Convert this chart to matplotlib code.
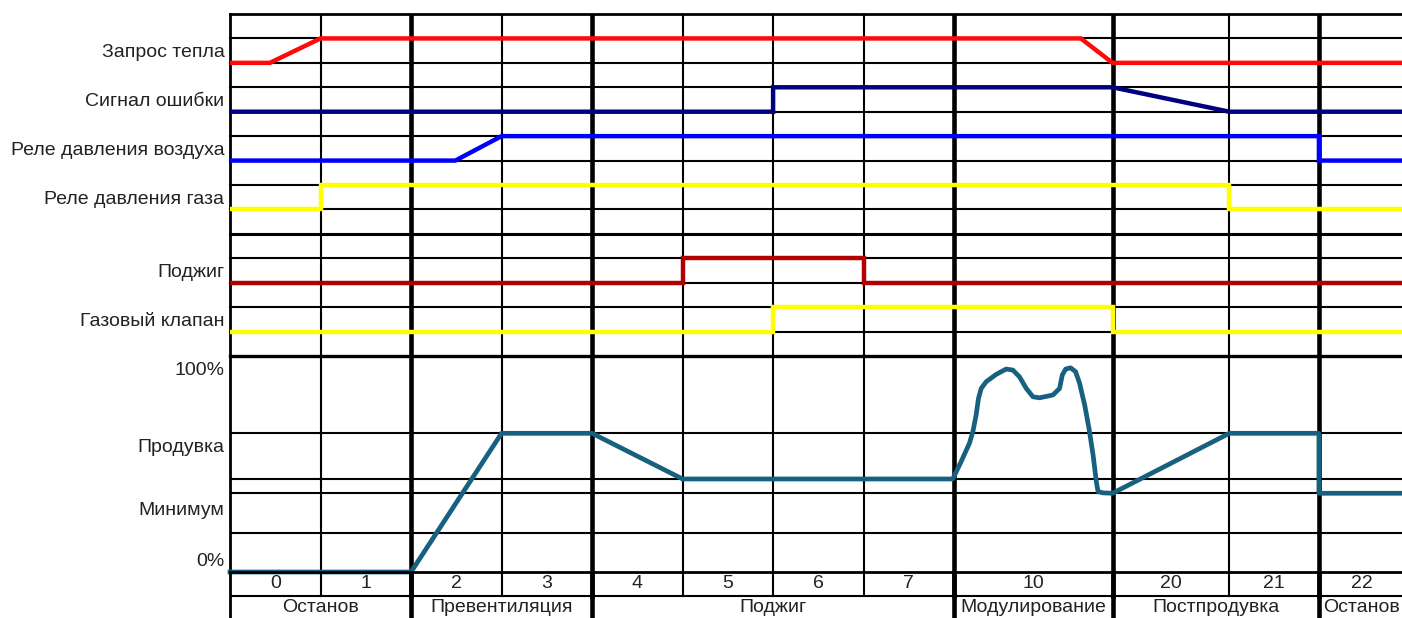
import matplotlib
matplotlib.use("Agg")
import matplotlib.pyplot as plt

plt.rcParams['font.family'] = ['Liberation Sans', 'DejaVu Sans']

# колонки шагов (единица = обычная ширина колонки)
col_edges = [0, 1, 2, 3, 4, 5, 6, 7, 8, 9.75, 11.04, 12.03, 12.97]
step_labels = ['0', '1', '2', '3', '4', '5', '6', '7', '10', '20', '21', '22']
phase_edges = [0, 2, 4, 8, 9.75, 12.03, 12.97]
phase_names = ['Останов', 'Превентиляция', 'Поджиг', 'Модулирование', 'Постпродувка', 'Останов']

# дискретные сигналы: x и состояние 0/1
heat_x = [0, 0.44, 1.0, 9.4, 9.75, 12.97]
heat_s = [0, 0, 1, 1, 0, 0]
err_x = [0, 6.0, 6.0, 9.75, 11.04, 12.97]
err_s = [0, 0, 1, 1, 0, 0]
air_x = [0, 2.49, 3.0, 12.03, 12.03, 12.97]
air_s = [0, 0, 1, 1, 0, 0]
gasp_x = [0, 1.0, 1.0, 11.04, 11.04, 12.97]
gasp_s = [0, 0, 1, 1, 0, 0]
ign_x = [0, 5.0, 5.0, 7.0, 7.0, 12.97]
ign_s = [0, 0, 1, 1, 0, 0]
valve_x = [0, 6.0, 6.0, 9.75, 9.75, 12.97]
valve_s = [0, 0, 1, 1, 0, 0]

# (название, цвет, x, состояние, строка нижнего уровня)
signals = [
    ('Запрос тепла', '#ff0a0a', heat_x, heat_s, 2),
    ('Сигнал ошибки', '#000080', err_x, err_s, 4),
    ('Реле давления воздуха', '#0000ff', air_x, air_s, 6),
    ('Реле давления газа', '#ffff00', gasp_x, gasp_s, 8),
    ('Поджиг', '#b00000', ign_x, ign_s, 11),
    ('Газовый клапан', '#ffff00', valve_x, valve_s, 13),
]

# аналоговый сигнал мощности, %
power_x = [0, 2.0, 3.0, 4.0, 5.0, 7.985, 8.077, 8.169, 8.207, 8.243, 8.269,
           8.299, 8.354, 8.465, 8.575, 8.649, 8.722, 8.797, 8.871, 8.944, 9.092,
           9.165, 9.195, 9.232, 9.287, 9.342, 9.386, 9.442, 9.490, 9.535, 9.571,
           9.590, 9.645, 9.75, 11.04, 12.03, 12.03, 12.97]
power_y = [0, 0, 68, 68, 45.6, 45.6, 54.1, 63.1, 68.8, 77.0, 85.1,
           90.0, 93.3, 96.9, 99.5, 99.0, 95.7, 90.0, 85.9, 85.4, 86.8,
           90.0, 96.6, 99.5, 100.1, 98.2, 92.5, 81.9, 70.4, 57.4, 44.3,
           39.4, 38.8, 38.6, 68, 68, 38.6, 38.6]
power_levels = [68, 45.6, 38.6, 19.1]
power_labels = ['100%', 'Продувка', 'Минимум', '0%']
power_label_pos = [100, 62, 31, 6]

W, H = 1402, 618
fig = plt.figure(figsize=(W / 100, H / 100), dpi=100)
left = 230 / W
width = (W + 2 - 230) / W
ax_d = fig.add_axes([left, 1 - 356 / H, width, 342 / H])
ax_a = fig.add_axes([left, 1 - 572 / H, width, 216 / H])
ax_t = fig.add_axes([left, 1 - 620 / H, width, 48 / H])

xmax = col_edges[-1]
thin, thick = 1.5, 3.3
thick_x = phase_edges[1:-1]
txt = '#222222'

for ax in (ax_d, ax_a, ax_t):
    ax.set_xlim(0, xmax)
    ax.set_xticks([])
    ax.set_facecolor('none')
    for sp in ax.spines.values():
        sp.set_visible(False)
    ax.axvline(0, color='black', lw=2.0, zorder=1, clip_on=False)

# верхняя панель
ax_d.set_ylim(14, 0)
for r in range(0, 15):
    lw = {0: 2.0, 9: 2.2, 14: 2.4}.get(r, thin)
    ax_d.axhline(r, color='black', lw=lw, zorder=1, clip_on=False)
for e in col_edges[1:-1]:
    ax_d.axvline(e, color='black', lw=thick if e in thick_x else thin, zorder=1)
for name, c, xs, ss, low in signals:
    ax_d.plot(xs, [low - s for s in ss], color=c, lw=3.2, zorder=3,
              solid_joinstyle='miter')
ax_d.set_yticks([s[4] - 0.5 for s in signals], [s[0] for s in signals])

# аналоговая панель
ax_a.set_ylim(0, 105.9)
for lvl in power_levels:
    ax_a.axhline(lvl, color='black', lw=thin, zorder=1)
for e in col_edges[1:-1]:
    ax_a.axvline(e, color='black', lw=thick if e in thick_x else thin, zorder=1)
ax_a.plot(power_x, power_y, color='#17607f', lw=3.4, zorder=3,
          solid_joinstyle='round', clip_on=False)
ax_a.set_yticks(power_label_pos, power_labels)

for ax in (ax_d, ax_a):
    ax.tick_params(axis='y', length=0, pad=4, labelsize=14, labelcolor=txt)

# таблица шагов и фаз
ax_t.set_ylim(2, 0)
ax_t.axhline(0, color='black', lw=2.0, clip_on=False)
ax_t.axhline(1, color='black', lw=thin)
ax_t.set_yticks([])
for e in col_edges[1:-1]:
    ax_t.plot([e, e], [0, 1], color='black', lw=thick if e in thick_x else thin)
for e in thick_x:
    ax_t.axvline(e, color='black', lw=thick)
for i, lab in enumerate(step_labels):
    ax_t.text((col_edges[i] + col_edges[i + 1]) / 2, 0.5, lab, ha='center',
              va='center', fontsize=14, color=txt)
for i, lab in enumerate(phase_names):
    ax_t.text((phase_edges[i] + phase_edges[i + 1]) / 2, 1.5, lab, ha='center',
              va='center', fontsize=14, color=txt)

fig.savefig('out.png', dpi=100)
